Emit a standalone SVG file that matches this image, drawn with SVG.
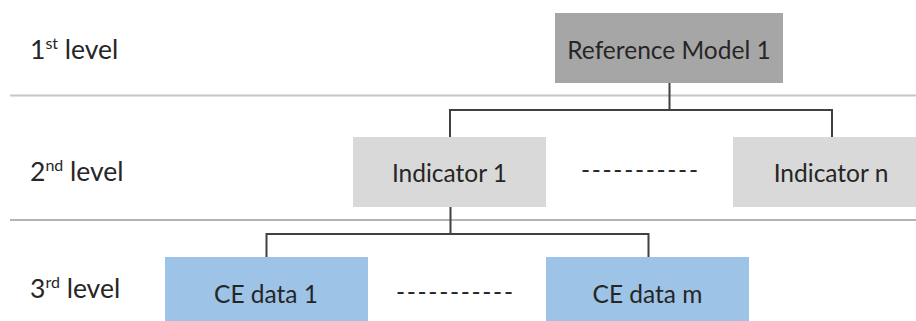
<svg xmlns="http://www.w3.org/2000/svg" width="916" height="321" viewBox="0 0 916 321">
<style>
  text { font-family: Lato, "Liberation Sans", sans-serif; fill: #262626; font-size: 24.5px; }
  .c { text-anchor: middle; }
  .lvl { font-size: 26.5px; }
  .sup { font-size: 16px; }
  .sep { fill: none; stroke-width: 2; }
  .conn { fill: none; stroke: #404040; stroke-width: 2; }
</style>
<rect width="916" height="321" fill="#ffffff"/>
<g id="levels">
  <line class="sep" x1="10" y1="95.5" x2="916" y2="95.5" stroke="#c6c6c6"/>
  <line class="sep" x1="10" y1="220" x2="916" y2="220" stroke="#b4b4b4"/>
  <text class="lvl" x="30" y="59">1<tspan class="sup" dy="-10">st</tspan><tspan dy="10"> level</tspan></text>
  <text class="lvl" x="30" y="181">2<tspan class="sup" dy="-10">nd</tspan><tspan dy="10"> level</tspan></text>
  <text class="lvl" x="30" y="298">3<tspan class="sup" dy="-10">rd</tspan><tspan dy="10"> level</tspan></text>
</g>
<g id="connectors">
  <path class="conn" d="M669.5,83 V110 M450,137 V110 H832 V137"/>
  <path class="conn" d="M450.5,207 V234 M266.5,257 V234 H648.5 V257"/>
</g>
<g id="ref-model">
  <rect x="555" y="13" width="228" height="70" fill="#a6a6a6"/>
  <text class="c" x="669" y="59">Reference Model 1</text>
</g>
<g id="indicator-1">
  <rect x="353" y="137" width="193" height="70" fill="#d9d9d9"/>
  <text class="c" x="449.5" y="182">Indicator 1</text>
</g>
<g id="indicator-dots">
  <text x="581" y="179" textLength="117" lengthAdjust="spacing">-----------</text>
</g>
<g id="indicator-n">
  <rect x="733" y="137" width="183" height="70" fill="#d9d9d9"/>
  <text class="c" x="831" y="182">Indicator n</text>
</g>
<g id="ce-data-1">
  <rect x="165" y="257" width="203" height="64" fill="#9dc3e6"/>
  <text class="c" x="266" y="303">CE data 1</text>
</g>
<g id="ce-dots">
  <text x="396" y="300.5" textLength="117" lengthAdjust="spacing">-----------</text>
</g>
<g id="ce-data-m">
  <rect x="546" y="257" width="203" height="64" fill="#9dc3e6"/>
  <text class="c" x="647.5" y="303">CE data m</text>
</g>
</svg>
